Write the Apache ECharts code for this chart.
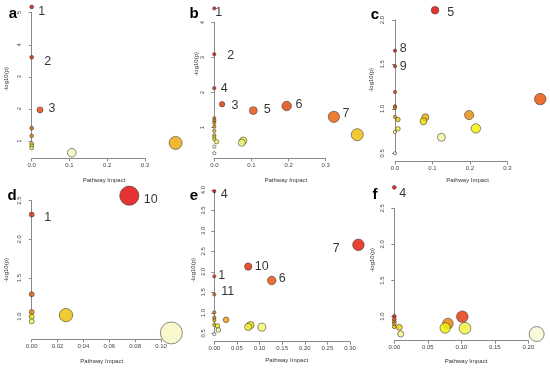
<!DOCTYPE html>
<html><head><meta charset="utf-8">
<script src="https://cdn.jsdelivr.net/npm/echarts@6/dist/echarts.min.js"></script>
<style>html,body{margin:0;padding:0;background:#fff}#c{width:550px;height:368px}</style>
</head><body><div id="c"></div>
<script>
// ---------- DATA (pathway impact, -log10(p), point labels) ----------
const aImpact = [0, 0, 0.022, 0, 0, 0.381, 0, 0, 0, 0.106];
const aLogP   = [5.18, 3.61, 1.97, 1.40, 1.16, 0.94, 0.92, 0.85, 0.78, 0.635];
const aNames  = ['1', '2', '3', '', '', '', '', '', '', ''];

const bImpact = [0, 0, 0, 0.021, 0.195, 0.105, 0.322, 0, 0, 0, 0, 0, 0.385, 0, 0, 0, 0.078, 0.006, 0.074, 0, 0];
const bLogP   = [4.41, 3.10, 2.13, 1.67, 1.62, 1.49, 1.31, 1.27, 1.20, 1.14, 1.03, 0.91, 0.80, 0.79, 0.73, 0.67, 0.63, 0.60, 0.57, 0.46, 0.27];
const bNames  = ['1', '2', '4', '3', '6', '5', '7', '', '', '', '', '', '', '', '', '', '', '', '', '', ''];

const cImpact = [0.107, 0, 0, 0, 0.388, 0, 0, 0.198, 0, 0.081, 0.008, 0.076, 0.216, 0.008, 0, 0.124, 0];
const cLogP   = [2.11, 1.655, 1.48, 1.19, 1.11, 1.03, 1.01, 0.93, 0.91, 0.905, 0.88, 0.86, 0.78, 0.775, 0.74, 0.68, 0.50];
const cNames  = ['5', '8', '9', '', '', '', '', '', '', '', '', '', '', '', '', '', ''];

const dImpact = [0.0755, 0, 0, 0, 0.0265, 0, 0, 0.108];
const dLogP   = [2.565, 2.32, 1.29, 1.06, 1.02, 1.0, 0.94, 0.79];
const dNames  = ['10', '1', '', '', '', '', '', ''];

const eImpact = [0, 0.3186, 0.075, 0, 0.127, 0, 0, 0, 0.026, 0, 0, 0.080, 0.007, 0.075, 0.105, 0.009, 0];
const eLogP   = [3.97, 2.66, 2.13, 1.89, 1.79, 1.45, 1.01, 0.88, 0.83, 0.82, 0.71, 0.70, 0.68, 0.655, 0.65, 0.58, 0.48];
const eNames  = ['4', '7', '10', '1', '6', '11', '', '', '', '', '', '', '', '', '', '', ''];

const fImpact = [0, 0, 0.1015, 0, 0, 0.080, 0, 0, 0.0075, 0.076, 0.1055, 0.0095, 0.2125];
const fLogP   = [2.79, 1.005, 1.0, 0.965, 0.93, 0.905, 0.90, 0.86, 0.853, 0.845, 0.84, 0.762, 0.76];
const fNames  = ['4', '', '', '', '', '', '', '', '', '', '', '', ''];

const xTitle = 'Pathway Impact';
const yTitle = '-log10(p)';

// ---------- LAYOUT / STYLE ----------
const panels = [
  {letter:'a', impact:aImpact, logp:aLogP, names:aNames,
   grid:{left:31.7, top:12.7, width:113.3, height:128.3}, xOff:17.3, yOff:5,
   x:[0,0.3,0.1,1], y:[1,5,1,0], size:[3.8,13], xT:[104,180], yT:[6,79], L:[13,14],
   lab:{'1':[10,5],'2':[16,4],'3':[12,-1]}},
  {letter:'b', impact:bImpact, logp:bLogP, names:bNames,
   grid:{left:214.3, top:22.7, width:111.4, height:105}, xOff:30.6, yOff:5,
   x:[0,0.3,0.1,1], y:[1,4,1,0], size:[3.3,12], xT:[285.8,180], yT:[196.7,64], L:[194,14],
   lab:{'1':[4.5,4],'2':[16.4,1],'4':[10,0],'3':[13,1],'5':[14,-1.4],'6':[12.3,-1],'7':[12,-3.4]}},
  {letter:'c', impact:cImpact, logp:cLogP, names:cNames,
   grid:{left:395, top:20, width:112.3, height:133.3}, xOff:8.2, yOff:5.7,
   x:[0,0.3,0.1,1], y:[0.5,2.0,0.5,1], size:[3.3,11.5], xT:[467.5,180], yT:[371.7,80], L:[375,15],
   lab:{'5':[15.7,2.3],'8':[8.3,-2.4],'9':[8.3,0]}},
  {letter:'d', impact:dImpact, logp:dLogP, names:dNames,
   grid:{left:31.7, top:200.7, width:129.3, height:116}, xOff:22.6, yOff:5,
   x:[0,0.10,0.02,2], y:[1.0,2.5,0.5,1], size:[5,22], xT:[101.7,361.7], yT:[6,270], L:[12,195.5],
   lab:{'10':[21.4,4.3],'1':[16,3]}},
  {letter:'e', impact:eImpact, logp:eLogP, names:eNames,
   grid:{left:214.3, top:190, width:135.7, height:143.3}, xOff:8.4, yOff:4.3,
   x:[0,0.30,0.05,2], y:[0.5,4.0,0.5,1], size:[3.3,11.5], xT:[286.7,360.7], yT:[193.3,270], L:[194,195.5],
   lab:{'4':[10,3.3],'7':[-22.3,4],'10':[13.4,0.3],'6':[10.6,-2.3],'1':[7.4,-0.7],'11':[13.4,-3.3]}},
  {letter:'f', impact:fImpact, logp:fLogP, names:fNames,
   grid:{left:394.3, top:208.3, width:134, height:108.4}, xOff:24, yOff:5,
   x:[0,0.20,0.05,2], y:[1.0,2.5,0.5,1], size:[3.8,15], xT:[466,361.7], yT:[372.7,260], L:[375,195],
   lab:{'4':[8.4,6]}}
];

const FONT = 'Liberation Sans, Arial, Helvetica, sans-serif';
const AXC = '#8a8a8a';

function hsv2hex(h, s, v) {
  const i = Math.floor(h * 6), f = h * 6 - i;
  const p = v * (1 - s), q = v * (1 - f * s), t = v * (1 - (1 - f) * s);
  let r, g, b;
  switch (i % 6) {
    case 0: r=v; g=t; b=p; break; case 1: r=q; g=v; b=p; break;
    case 2: r=p; g=v; b=t; break; case 3: r=p; g=q; b=v; break;
    case 4: r=t; g=p; b=v; break; default: r=v; g=p; b=q;
  }
  const h2 = x => Math.round(x * 255).toString(16).padStart(2, '0');
  return '#' + h2(r) + h2(g) + h2(b);
}
// R's heat.colors(n), slightly darkened to match the printed figure
function heatColors(n) {
  const j = Math.floor(n / 4), i = n - j, out = [];
  for (let k = 0; k < i; k++) {
    const t = i > 1 ? k / (i - 1) : 0;
    out.push(hsv2hex(t / 6, 1, 0.88 + 0.06 * t));
  }
  for (let k = 0; k < j; k++) {
    const s0 = 1 - 1 / (2 * j), s1 = 1 / (2 * j);
    const s = j > 1 ? s0 + (s1 - s0) * k / (j - 1) : s0;
    out.push(hsv2hex(1 / 6, s * 0.9, 0.94 + 0.04 * (1 - s)));
  }
  return out;
}

const option = { animation:false, backgroundColor:'#fff', grid:[], xAxis:[], yAxis:[], series:[], graphic:[] };

panels.forEach((p, gi) => {
  option.grid.push(Object.assign({containLabel:false}, p.grid));
  const fmt = d => v => v.toFixed(d);
  option.xAxis.push({
    type:'value', gridIndex:gi, min:p.x[0], max:p.x[1], interval:p.x[2], offset:p.xOff,
    axisLine:{show:true, lineStyle:{color:AXC, width:1}},
    axisTick:{show:true, length:3, lineStyle:{color:AXC}},
    axisLabel:{fontSize:6, color:'#444', margin:4, fontFamily:FONT, formatter:fmt(p.x[3]), showMinLabel:true, showMaxLabel:true},
    splitLine:{show:false}
  });
  option.yAxis.push({
    type:'value', gridIndex:gi, min:p.y[0], max:p.y[1], interval:p.y[2], offset:p.yOff,
    axisLine:{show:true, lineStyle:{color:AXC, width:1}},
    axisTick:{show:true, length:3, lineStyle:{color:AXC}},
    axisLabel:{fontSize:6, color:'#444', margin:4, rotate:90, fontFamily:FONT, formatter:fmt(p.y[3]), showMinLabel:true, showMaxLabel:true},
    splitLine:{show:false}
  });
  // colours by rank of -log10(p), size by sqrt(impact)
  const n = p.logp.length;
  const order = p.logp.map((v, i) => i).sort((a, b) => p.logp[b] - p.logp[a]);
  const cols = heatColors(n);
  const sq = p.impact.map(Math.sqrt);
  const mn = Math.min(...sq), mx = Math.max(...sq);
  const data = order.map((idx, r) => {
    const nm = p.names[idx];
    const item = {
      value:[p.impact[idx], p.logp[idx]],
      symbolSize: p.size[0] + (p.size[1] - p.size[0]) * (sq[idx] - mn) / (mx - mn),
      itemStyle:{color:cols[r], borderColor:'#333', borderWidth:0.7}
    };
    if (nm) {
      item.label = {show:true, formatter:nm, position:'inside', offset:p.lab[nm] || [10,0],
        color:'#000', fontSize:12.5, fontFamily:FONT};
    }
    return item;
  });
  option.series.push({
    type:'scatter', xAxisIndex:gi, yAxisIndex:gi, clip:false, data:data,
    label:{show:false}, emphasis:{disabled:true}, z:2
  });
  option.graphic.push(
    {type:'text', x:p.L[0], y:p.L[1], style:{text:p.letter, font:'bold 15px ' + FONT, fill:'#000', align:'center', verticalAlign:'middle'}},
    {type:'text', x:p.xT[0], y:p.xT[1], style:{text:xTitle, font:'6px ' + FONT, fill:'#333', align:'center', verticalAlign:'middle'}},
    {type:'text', x:p.yT[0], y:p.yT[1], rotation:Math.PI / 2, style:{text:yTitle, font:'6px ' + FONT, fill:'#333', align:'center', verticalAlign:'middle'}}
  );
});

const chart = echarts.init(document.getElementById('c'), null, {renderer:'canvas', width:550, height:368});
chart.setOption(option);
</script>
</body></html>
